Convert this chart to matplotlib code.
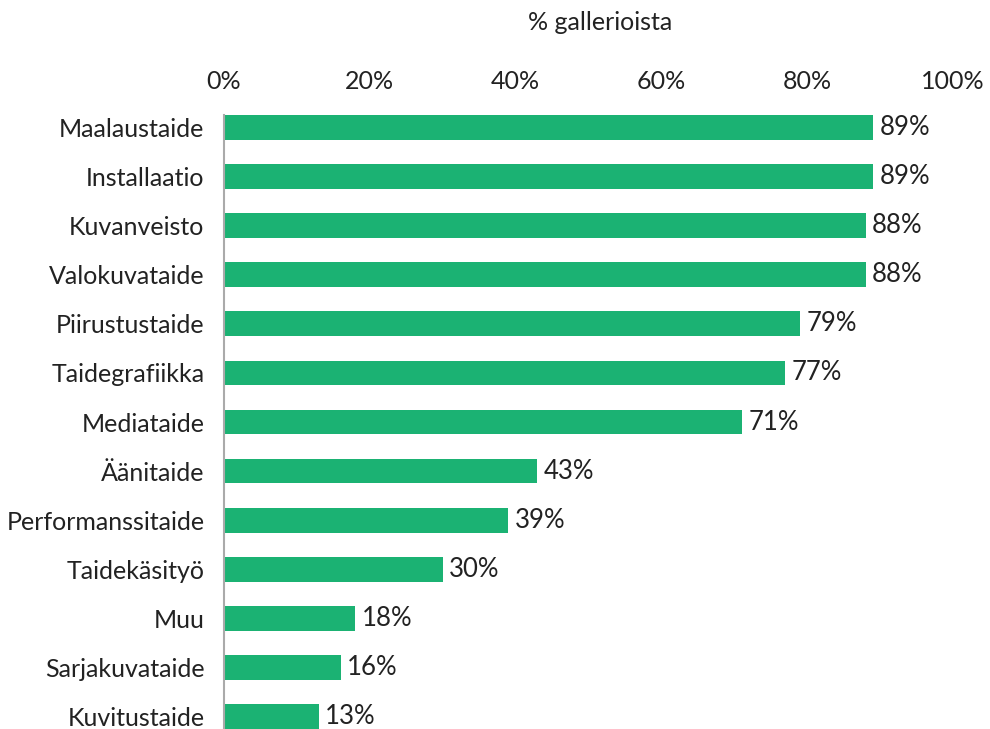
import matplotlib.pyplot as plt
import numpy as np

categories = ["Maalaustaide", "Installaatio", "Kuvanveisto", "Valokuvataide",
              "Piirustustaide", "Taidegrafiikka", "Mediataide", "Äänitaide",
              "Performanssitaide", "Taidekäsityö", "Muu", "Sarjakuvataide",
              "Kuvitustaide"]
values = [89, 89, 88, 88, 79, 77, 71, 43, 39, 30, 18, 16, 13]
ticks = [0, 20, 40, 60, 80, 100]
tick_labels = ["0%", "20%", "40%", "60%", "80%", "100%"]

plt.rcParams['font.family'] = ['Lato', 'DejaVu Sans']
color_bar = "#1bb273"
color_text = "#222222"

fig = plt.figure(figsize=(9.9, 7.29), dpi=100)
ax = fig.add_axes([224 / 990, 0, (953 - 224) / 990, (729 - 115) / 729])

y = np.arange(len(categories))
ax.barh(y, values, height=0.5, color=color_bar)
ax.set_xlim(0, 100)
ax.set_ylim(len(categories) - 0.75, -0.25)

for yi, v in zip(y, values):
    ax.text(v + 0.9, yi, f"{v}%", va="center", ha="left", fontsize=18.5, color=color_text)

ax.xaxis.tick_top()
ax.set_xticks(ticks)
ax.set_xticklabels(tick_labels, fontsize=18, color=color_text)
ax.tick_params(axis="x", length=0, pad=16)
ax.set_yticks(y)
ax.set_yticklabels(categories, fontsize=18, color=color_text)
ax.tick_params(axis="y", length=0, pad=14)

for s in ["top", "right", "bottom"]:
    ax.spines[s].set_visible(False)
ax.spines["left"].set_color("#aaaaaa")
ax.spines["left"].set_linewidth(1.5)

fig.text(600 / 990, 1 - 22 / 729, "% gallerioista", ha="center", va="center",
         fontsize=18, color=color_text)

fig.savefig("out.png", dpi=100)
